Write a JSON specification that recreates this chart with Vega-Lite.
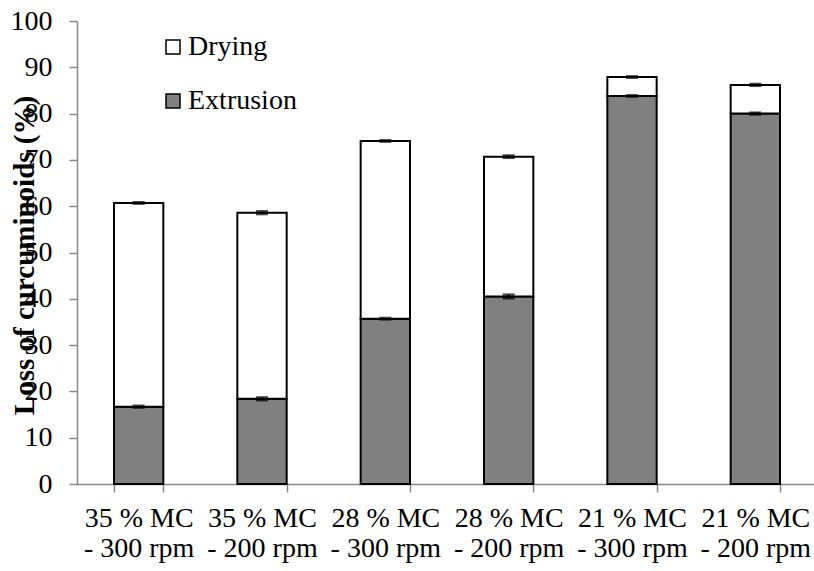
{
  "$schema": "https://vega.github.io/schema/vega-lite/v6.json",
  "autosize": {"type": "none"},
  "padding": {"left": 77, "top": 21, "right": 0, "bottom": 87},
  "width": 740,
  "height": 463,
  "background": "white",
  "config": {
    "font": "Liberation Serif",
    "view": {"stroke": null},
    "axis": {"grid": false, "domainColor": "#888888", "domainWidth": 1.5, "tickColor": "#888888", "tickWidth": 1.5, "labelColor": "black", "labelFont": "Liberation Serif", "labelFontSize": 28}
  },
  "datasets": {
    "bars": [
      {"condition": "35 % MC|- 300 rpm", "process": "Extrusion", "value": 16.7},
      {"condition": "35 % MC|- 300 rpm", "process": "Drying", "value": 44.0},
      {"condition": "35 % MC|- 200 rpm", "process": "Extrusion", "value": 18.4},
      {"condition": "35 % MC|- 200 rpm", "process": "Drying", "value": 40.2},
      {"condition": "28 % MC|- 300 rpm", "process": "Extrusion", "value": 35.7},
      {"condition": "28 % MC|- 300 rpm", "process": "Drying", "value": 38.4},
      {"condition": "28 % MC|-  200 rpm", "process": "Extrusion", "value": 40.5},
      {"condition": "28 % MC|-  200 rpm", "process": "Drying", "value": 30.2},
      {"condition": "21 % MC|- 300 rpm", "process": "Extrusion", "value": 83.8},
      {"condition": "21 % MC|- 300 rpm", "process": "Drying", "value": 4.1},
      {"condition": "21 % MC|- 200 rpm", "process": "Extrusion", "value": 80.0},
      {"condition": "21 % MC|- 200 rpm", "process": "Drying", "value": 6.2}
    ],
    "errors": [
      {"condition": "35 % MC|- 300 rpm", "low": 16.5, "high": 16.9},
      {"condition": "35 % MC|- 300 rpm", "low": 60.55, "high": 60.85},
      {"condition": "35 % MC|- 200 rpm", "low": 18.1, "high": 18.7},
      {"condition": "35 % MC|- 200 rpm", "low": 58.3, "high": 58.9},
      {"condition": "28 % MC|- 300 rpm", "low": 35.55, "high": 35.85},
      {"condition": "28 % MC|- 300 rpm", "low": 73.95, "high": 74.25},
      {"condition": "28 % MC|-  200 rpm", "low": 40.1, "high": 40.9},
      {"condition": "28 % MC|-  200 rpm", "low": 70.45, "high": 70.95},
      {"condition": "21 % MC|- 300 rpm", "low": 83.65, "high": 83.95},
      {"condition": "21 % MC|- 300 rpm", "low": 87.75, "high": 88.05},
      {"condition": "21 % MC|- 200 rpm", "low": 79.8, "high": 80.2},
      {"condition": "21 % MC|- 200 rpm", "low": 86.0, "high": 86.4}
    ]
  },
  "layer": [
    {
      "data": {"name": "bars"},
      "mark": {"type": "bar", "stroke": "black", "strokeWidth": 2},
      "encoding": {
        "x": {
          "field": "condition", "type": "nominal", "sort": null,
          "scale": {"paddingInner": 0.6, "paddingOuter": 0.3},
          "axis": {
            "title": null, "labelAngle": 0, "tickBand": "extent", "tickSize": 8,
            "labelExpr": "split(datum.label, '|')", "labelLineHeight": 30,
            "labelPadding": 12, "labelOverlap": false, "labelBound": false, "labelLimit": 0
          }
        },
        "y": {
          "field": "value", "type": "quantitative", "stack": "zero",
          "title": "Loss of curcuminoids (%)",
          "scale": {"domain": [0, 100], "nice": false},
          "axis": {
            "values": [0, 10, 20, 30, 40, 50, 60, 70, 80, 90, 100],
            "tickSize": 8, "labelPadding": 17,
            "titleFont": "Liberation Serif", "titleFontSize": 29, "titleFontWeight": "bold", "titleColor": "black",
            "titleX": -44, "titleY": 234, "titleAngle": -90, "titleAlign": "center", "titleBaseline": "alphabetic", "titleLimit": 0
          }
        },
        "color": {
          "field": "process", "type": "nominal",
          "scale": {"domain": ["Drying", "Extrusion"], "range": ["#ffffff", "#808080"]},
          "legend": {
            "title": null, "orient": "none", "legendX": 82, "legendY": 12,
            "symbolType": "square", "symbolSize": 196, "symbolStrokeColor": "black", "symbolStrokeWidth": 1.5,
            "labelFont": "Liberation Serif", "labelFontSize": 28, "labelColor": "black", "labelOffset": 1,
            "rowPadding": 26
          }
        },
        "order": {"field": "process", "sort": "descending"}
      }
    },
    {
      "data": {"name": "errors"},
      "mark": {"type": "errorbar", "color": "black", "thickness": 2.5, "ticks": {"size": 12, "thickness": 2.5, "color": "black"}},
      "encoding": {
        "x": {"field": "condition", "type": "nominal", "sort": null},
        "y": {"field": "low", "type": "quantitative", "title": "Loss of curcuminoids (%)"},
        "y2": {"field": "high"}
      }
    }
  ]
}
